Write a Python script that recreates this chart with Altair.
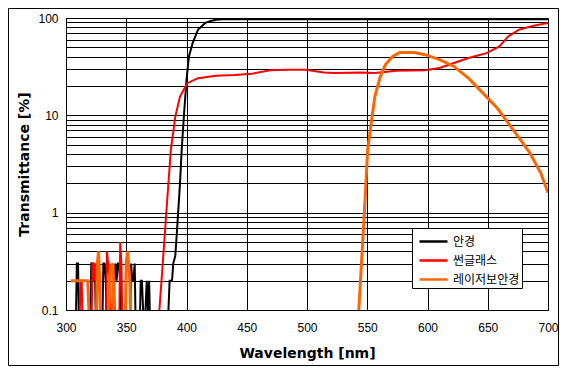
import altair as alt
import pandas as pd

# ---- data ----
series_names = ["안경", "썬글래스", "레이저보안경"]
series_colors = ["#000000", "#FF0000", "#FF6600"]
series_widths = [2, 2, 3]

glasses_wl = [300, 308, 309, 310, 311, 320, 321, 322, 323, 324, 325, 330, 331, 332, 333, 334,
              339, 340, 341, 342, 343, 344, 345, 346, 353, 354, 355, 356, 357, 358, 361, 362,
              363, 365, 367, 368, 369, 370, 384, 385, 386, 388, 389, 390.7, 392, 394.6, 396,
              398, 400, 402, 405, 409.6, 415.6, 420, 424.5, 430, 450, 500, 550, 600, 650, 700]
glasses_t = [0.05, 0.05, 0.3, 0.3, 0.05, 0.05, 0.3, 0.3, 0.2, 0.3, 0.05, 0.05, 0.3, 0.3, 0.2, 0.05,
             0.05, 0.2, 0.3, 0.2, 0.3, 0.3, 0.2, 0.05, 0.05, 0.3, 0.2, 0.2, 0.3, 0.05, 0.05, 0.2,
             0.2, 0.05, 0.2, 0.1, 0.2, 0.05, 0.05, 0.1, 0.2, 0.2, 0.3, 0.36, 0.62, 2.0, 4.4,
             10.5, 23, 40, 55, 76, 89, 93, 96, 97, 97, 97, 97, 97, 97, 97]

sun_wl = [300, 311, 312, 313, 314, 321, 322, 323, 324, 325, 326, 333, 334, 335, 336, 337,
          338, 339, 340, 341, 344, 345, 346, 347, 376, 377.5, 381, 384, 387, 390.7, 394.6,
          400.6, 409.6, 424.5, 439.5, 454.5, 469.5, 484, 499, 514, 523, 544, 556, 574, 598,
          610, 622, 634, 649, 659.6, 667, 676, 688, 700]
sun_t = [0.05, 0.05, 0.2, 0.2, 0.05, 0.05, 0.3, 0.3, 0.2, 0.3, 0.05, 0.05, 0.4, 0.3, 0.2, 0.05,
         0.05, 0.3, 0.2, 0.05, 0.05, 0.5, 0.3, 0.05, 0.05, 0.1, 0.4, 1.35, 4.4, 9.7, 15.6,
         21.4, 24.1, 25.5, 26, 26.8, 29, 29.4, 29.4, 27.6, 27.2, 27.6, 27.2, 28.7, 29,
         30.6, 34.5, 38.8, 43.6, 51, 64.7, 75.9, 83.4, 88.8]

laser_wl = [304, 318, 320, 325, 326, 327, 328, 329, 335, 336, 337, 338, 339, 340, 349, 350,
            351, 352, 353, 354, 542, 543, 545.8, 548.2, 550.3, 553.3, 556.3, 560.8, 565, 571,
            577, 589, 598, 610, 622, 634, 646, 658, 670, 679, 685, 694, 700]
laser_t = [0.2, 0.2, 0.05, 0.05, 0.3, 0.4, 0.2, 0.05, 0.05, 0.2, 0.3, 0.25, 0.3, 0.05, 0.05, 0.3,
           0.4, 0.3, 0.2, 0.05, 0.05, 0.1, 0.41, 1.35, 4.4, 8.3, 15.6, 25, 33, 40.3,
           44.3, 44.3, 42, 37.3, 31.8, 24.1, 16.9, 11.8, 7.4, 5.2, 4.1, 2.55, 1.6]

x_ticks = [300, 350, 400, 450, 500, 550, 600, 650, 700]
y_ticks = [0.1, 0.2, 0.3, 0.4, 0.5, 0.6, 0.7, 0.8, 0.9,
           1, 2, 3, 4, 5, 6, 7, 8, 9,
           10, 20, 30, 40, 50, 60, 70, 80, 90, 100]
y_major = [0.1, 1, 10, 100]

series_data = [(series_names[0], glasses_wl, glasses_t),
               (series_names[1], sun_wl, sun_t),
               (series_names[2], laser_wl, laser_t)]

label_expr = " || ".join(f"datum.value == {v}" for v in y_major)
label_expr = f"({label_expr}) ? datum.label : ''"

x_enc = alt.X("wl:Q", scale=alt.Scale(domain=[300, 700], nice=False),
              axis=alt.Axis(values=x_ticks, title="Wavelength [nm]", format="d",
                            ticks=False, labelPadding=12, titlePadding=13,
                            labelFlush=False))
y_enc = alt.Y("T:Q", scale=alt.Scale(type="log", domain=[0.1, 100], nice=False),
              axis=alt.Axis(values=y_ticks, title="Transmittance [%]", format="~g",
                            labelExpr=label_expr, ticks=False, labelPadding=8,
                            titlePadding=6, labelFlush=False))
color_enc = alt.Color("series:N", sort=series_names,
                      scale=alt.Scale(domain=series_names, range=series_colors),
                      legend=alt.Legend(title=None, orient="none", legendX=346, legendY=210,
                                        strokeColor="black", fillColor="white", padding=2,
                                        symbolType="M-1.4,0H1.4", symbolStrokeWidth=2.5,
                                        symbolSize=400, symbolOffset=8, labelFontSize=12,
                                        labelFont="Noto Sans CJK KR", labelColor="black",
                                        labelOffset=8, rowPadding=1, cornerRadius=0))

layers = []
for (name, wl, t), w in zip(series_data, series_widths):
    d = pd.DataFrame({"series": name, "wl": wl, "T": t, "i": list(range(len(wl)))})
    layers.append(
        alt.Chart(d).mark_line(clip=True, strokeWidth=w).encode(
            x=x_enc, y=y_enc, color=color_enc, order="i:Q"
        )
    )

frame = alt.Chart(pd.DataFrame({"a": [0]})).mark_rect(
    fillOpacity=0, stroke="black", strokeWidth=1
).encode(
    x=alt.value(-57.5), x2=alt.value(492.5), y=alt.value(-9.5), y2=alt.value(347.5)
)

chart = alt.layer(*layers, frame).properties(
    width=482, height=292,
    autosize=alt.AutoSizeParams(type="none"),
    padding={"left": 58, "top": 10, "right": 11, "bottom": 56},
    background="white",
).configure_view(
    stroke="black", strokeWidth=1
).configure_axis(
    grid=True, gridColor="black", gridOpacity=1, gridWidth=1,
    domain=False, labelFont="Liberation Sans", labelFontSize=12, labelColor="black",
    titleFont="DejaVu Sans", titleFontWeight="bold", titleFontSize=14, titleColor="black",
)

chart.save("out.html", embed_options={"renderer": "svg", "actions": False})
